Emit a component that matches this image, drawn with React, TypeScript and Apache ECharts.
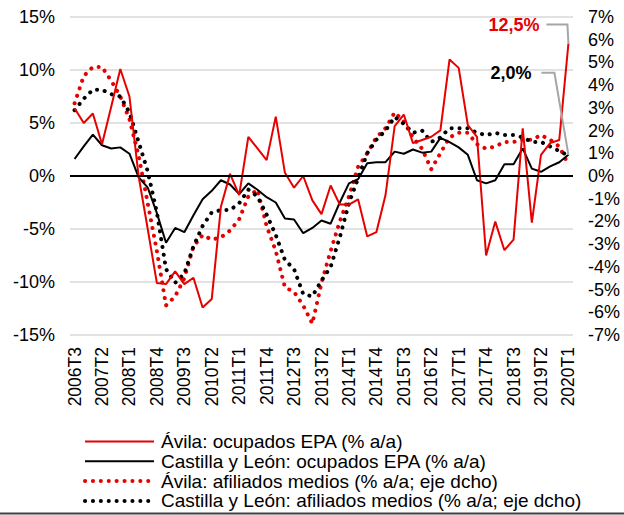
import React, { useEffect, useRef } from "react";
import * as echarts from "echarts";

const quarters = [
  "2006T3", "2006T4",
  "2007T1", "2007T2", "2007T3", "2007T4",
  "2008T1", "2008T2", "2008T3", "2008T4",
  "2009T1", "2009T2", "2009T3", "2009T4",
  "2010T1", "2010T2", "2010T3", "2010T4",
  "2011T1", "2011T2", "2011T3", "2011T4",
  "2012T1", "2012T2", "2012T3", "2012T4",
  "2013T1", "2013T2", "2013T3", "2013T4",
  "2014T1", "2014T2", "2014T3", "2014T4",
  "2015T1", "2015T2", "2015T3", "2015T4",
  "2016T1", "2016T2", "2016T3", "2016T4",
  "2017T1", "2017T2", "2017T3", "2017T4",
  "2018T1", "2018T2", "2018T3", "2018T4",
  "2019T1", "2019T2", "2019T3", "2019T4",
  "2020T1",
];

// Ávila: ocupados EPA (% a/a) — left axis
const avilaEPA = [
  6.4, 5.0, 5.9, 3.0, 6.5, 10.1, 7.5, 0.0, -5.0, -10.1,
  -10.2, -9.0, -10.2, -9.6, -12.4, -11.6, -2.9, 0.2, -1.8, 3.7,
  2.6, 1.5, 5.6, 0.3, -1.1, 0.0, -2.3, -3.6, -0.9, -2.7,
  -2.7, -2.2, -5.7, -5.3, -1.8, 4.7, 5.8, 3.1, 3.4, 3.7,
  4.3, 11.0, 10.2, 4.8, 3.7, -7.5, -4.3, -7.0, -6.0, 4.5,
  -4.4, 2.0, 3.1, 3.4, 12.5,
];

// Castilla y León: ocupados EPA (% a/a) — left axis
const castillaEPA = [
  1.6, 2.8, 3.9, 2.9, 2.6, 2.7, 2.1, -0.1, -1.1, -3.5,
  -6.3, -4.9, -5.3, -3.7, -2.2, -1.4, -0.4, -0.8, -1.7, -0.7,
  -1.3, -2.0, -2.5, -4.0, -4.1, -5.4, -4.9, -4.2, -4.5, -2.5,
  -0.7, -0.3, 1.2, 1.3, 1.3, 2.3, 2.1, 2.5, 2.2, 2.3,
  3.6, 3.2, 2.7, 2.0, -0.4, -0.7, -0.4, 1.1, 1.1, 2.6,
  0.7, 0.4, 0.9, 1.3, 2.0,
];

// Ávila: afiliados medios (% a/a; eje dcho) — right axis
const avilaAfil = [
  3.2, 4.4, 4.8, 4.8, 4.2, 3.5, 2.5, 0.9, -1.2, -3.3,
  -5.7, -5.3, -4.5, -3.1, -2.6, -2.8, -2.7, -2.4, -1.9, -0.9,
  -0.6, -2.2, -3.3, -4.9, -5.1, -5.7, -6.5, -4.7, -3.3, -2.0,
  -0.9, 0.4, 1.0, 1.7, 2.1, 2.8, 2.4, 1.7, 1.2, 0.3,
  1.0, 1.7, 1.9, 1.9, 1.4, 1.2, 1.3, 1.5, 1.5, 1.6,
  1.6, 1.8, 1.6, 1.3, 0.5,
];

// Castilla y León: afiliados medios (% a/a; eje dcho) — right axis
const castillaAfil = [
  2.9, 3.4, 3.8, 3.8, 3.6, 3.5, 2.8, 1.5, 0.2, -1.6,
  -4.1, -4.7, -4.3, -3.1, -2.2, -1.6, -1.5, -1.5, -1.2, -0.6,
  -0.9, -1.7, -2.6, -3.7, -4.1, -5.2, -5.3, -4.6, -4.0, -2.7,
  -1.2, -0.1, 1.0, 1.6, 2.0, 2.6, 2.3, 1.9, 2.0, 1.5,
  1.7, 2.1, 2.1, 2.1, 1.9, 1.8, 1.9, 1.8, 1.8, 1.7,
  1.5, 1.5, 1.3, 1.1, 0.9,
];

const seriesNames = [
  "Ávila: ocupados EPA (% a/a)",
  "Castilla y León: ocupados EPA (% a/a)",
  "Ávila: afiliados medios (% a/a; eje dcho)",
  "Castilla y León: afiliados medios (% a/a; eje dcho)",
];

const FONT = "'Liberation Sans', Arial, sans-serif";
const RED = "#e60000";
const BLACK = "#000000";

const fmtPct = (v: number) => `${v}%`;
const fmtComma = (v: number) => `${v.toFixed(1).replace(".", ",")}%`;

export default function App() {
  const ref = useRef<HTMLDivElement>(null);

  useEffect(() => {
    document.body.style.margin = "0";
    if (!ref.current) return;
    const chart = echarts.init(ref.current, undefined, { renderer: "svg" });

    const dotted = (color: string) => ({
      color,
      width: 4,
      type: [0.1, 7.8] as any,
      cap: "round" as any,
    });

    chart.setOption({
      animation: false,
      textStyle: { fontFamily: FONT },
      grid: { left: 70, right: 51, top: 17, bottom: 180 },
      legend: {
        orient: "vertical",
        left: 83,
        top: 432,
        padding: 0,
        itemWidth: 69,
        itemHeight: 14,
        itemGap: 0.8,
        itemStyle: { opacity: 0 },
        lineStyle: { width: "inherit", type: "inherit", cap: "inherit" } as any,
        data: seriesNames,
        textStyle: {
          fontFamily: FONT,
          fontSize: 19,
          lineHeight: 19,
          color: "#000",
          padding: [0, 0, 0, 2],
        },
      },
      xAxis: {
        type: "category",
        data: quarters,
        boundaryGap: true,
        axisLine: { show: false },
        axisTick: { show: false },
        splitLine: { show: false },
        axisLabel: {
          rotate: 90,
          interval: 2,
          fontSize: 17.5,
          color: "#000",
          margin: 12,
          fontFamily: FONT,
        },
      },
      yAxis: [
        {
          type: "value",
          min: -15,
          max: 15,
          interval: 5,
          axisLine: { show: false },
          axisTick: { show: false },
          splitLine: { lineStyle: { color: "#d9d9d9", width: 1.5 } },
          axisLabel: {
            formatter: fmtPct,
            fontSize: 18,
            color: "#000",
            margin: 15,
            fontFamily: FONT,
          },
        },
        {
          type: "value",
          position: "right",
          min: -7,
          max: 7,
          interval: 1,
          axisLine: { show: false },
          axisTick: { show: false },
          splitLine: { show: false },
          axisLabel: {
            formatter: fmtPct,
            fontSize: 18,
            color: "#000",
            margin: 15,
            fontFamily: FONT,
          },
        },
      ],
      series: [
        {
          name: seriesNames[2],
          type: "line",
          yAxisIndex: 1,
          data: avilaAfil,
          symbol: "none",
          color: RED,
          lineStyle: dotted(RED),
          z: 2,
        },
        {
          name: seriesNames[3],
          type: "line",
          yAxisIndex: 1,
          data: castillaAfil,
          symbol: "none",
          color: BLACK,
          lineStyle: dotted(BLACK),
          z: 2,
        },
        {
          name: seriesNames[1],
          type: "line",
          yAxisIndex: 0,
          data: castillaEPA,
          symbol: "none",
          color: BLACK,
          lineStyle: { color: BLACK, width: 2 },
          z: 3,
          markLine: {
            silent: true,
            symbol: "none",
            label: { show: false },
            lineStyle: { color: "#000", width: 2, type: "solid" },
            data: [{ yAxis: 0 }],
          },
        },
        {
          name: seriesNames[0],
          type: "line",
          yAxisIndex: 0,
          data: avilaEPA,
          symbol: "none",
          color: RED,
          lineStyle: { color: RED, width: 2 },
          z: 4,
        },
      ],
    });

    const last = quarters.length - 1;
    const pRed = chart.convertToPixel({ xAxisIndex: 0, yAxisIndex: 0 } as any, [
      last,
      avilaEPA[last],
    ]) as number[];
    const pBlack = chart.convertToPixel({ xAxisIndex: 0, yAxisIndex: 0 } as any, [
      last,
      castillaEPA[last],
    ]) as number[];

    const redY = pRed[1] - 19;
    const blackY = pBlack[1] - 82;
    const W = chart.getWidth();
    const H = chart.getHeight();

    chart.setOption({
      graphic: [
        {
          type: "line",
          shape: { x1: 0, y1: H - 1.5, x2: W, y2: H - 1.5 },
          style: { stroke: "#404040", lineWidth: 2 },
          silent: true,
        },
        {
          type: "polyline",
          shape: {
            points: [
              [pRed[0] - 22, redY],
              [pRed[0] - 1, redY],
              [pRed[0], pRed[1]],
            ],
          },
          style: { stroke: "#a6a6a6", lineWidth: 2, fill: "none" },
          z: 10,
        },
        {
          type: "text",
          x: pRed[0] - 29,
          y: redY,
          style: {
            text: fmtComma(avilaEPA[last]),
            fill: RED,
            font: `bold 18px ${FONT}`,
            align: "right",
            verticalAlign: "middle",
          },
          z: 10,
        },
        {
          type: "polyline",
          shape: {
            points: [
              [pBlack[0] - 27, blackY],
              [pBlack[0] - 14, blackY],
              [pBlack[0], pBlack[1]],
            ],
          },
          style: { stroke: "#a6a6a6", lineWidth: 2, fill: "none" },
          z: 10,
        },
        {
          type: "text",
          x: pBlack[0] - 37,
          y: blackY,
          style: {
            text: fmtComma(castillaEPA[last]),
            fill: "#000",
            font: `bold 18px ${FONT}`,
            align: "right",
            verticalAlign: "middle",
          },
          z: 10,
        },
      ],
    });

    return () => chart.dispose();
  }, []);

  return <div ref={ref} style={{ width: 624, height: 515 }} />;
}
